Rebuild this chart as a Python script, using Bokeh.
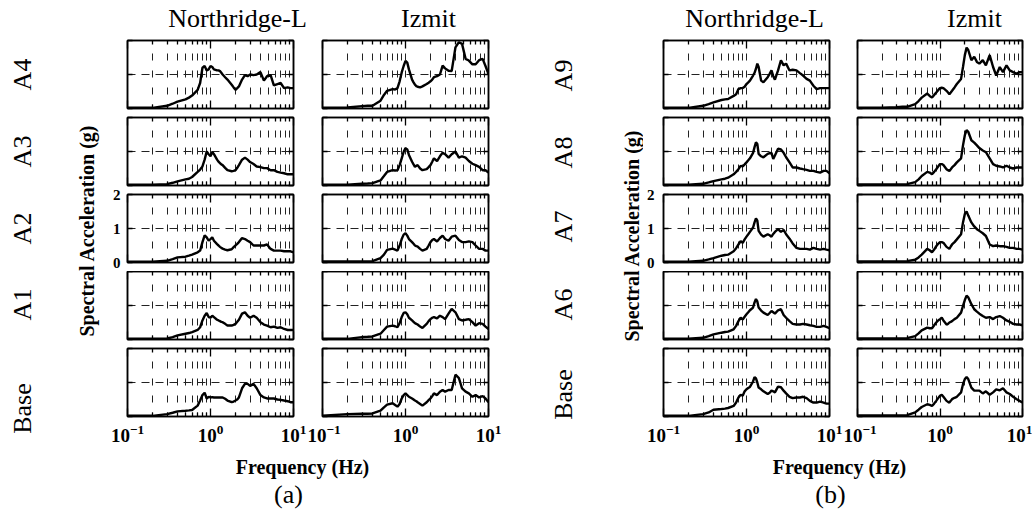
import math
from bokeh.plotting import figure
from bokeh.models import FixedTicker, LogAxis, LinearAxis, Range1d, CustomJSTickFormatter
from bokeh.core.properties import value
from bokeh.layouts import row, column
from bokeh.embed import file_html
from bokeh.resources import INLINE

# ---------------- data ----------------
freq = [0.1, 0.2, 0.3, 0.35, 0.4, 0.5, 0.55, 0.6, 0.7, 0.75,
        0.8, 0.85, 0.9, 0.95, 1.0, 1.05, 1.1, 1.2, 1.25, 1.3,
        1.35, 1.4, 1.5, 1.6, 1.8, 1.9, 2.0, 2.1, 2.2, 2.4,
        2.6, 2.8, 3.0, 3.3, 3.6, 4.0, 4.4, 4.8, 5.3, 5.8,
        6.4, 7.0, 7.7, 8.5, 9.2, 10.0]

# (a) Northridge-L
a_nl_a4 = [0.02, 0.02, 0.08, 0.14, 0.20, 0.27, 0.32, 0.38, 0.55, 0.75,
           1.20, 1.25, 1.12, 1.15, 1.25, 1.22, 1.15, 1.12, 1.12, 1.10,
           1.05, 1.00, 0.92, 0.85, 0.70, 0.62, 0.55, 0.60, 0.65, 0.85,
           0.98, 0.95, 1.00, 0.98, 1.00, 1.07, 0.82, 0.95, 0.98, 0.68,
           0.72, 0.75, 0.60, 0.62, 0.60, 0.60]
a_nl_a3 = [0.02, 0.02, 0.04, 0.08, 0.12, 0.18, 0.20, 0.25, 0.40, 0.47,
           0.56, 0.76, 1.00, 0.92, 0.86, 0.99, 0.92, 0.76, 0.70, 0.66,
           0.62, 0.60, 0.52, 0.45, 0.42, 0.43, 0.45, 0.52, 0.60, 0.76,
           0.82, 0.76, 0.69, 0.63, 0.56, 0.54, 0.51, 0.51, 0.45, 0.45,
           0.40, 0.38, 0.36, 0.33, 0.33, 0.33]
a_nl_a2 = [0.02, 0.02, 0.05, 0.10, 0.15, 0.17, 0.20, 0.23, 0.30, 0.35,
           0.60, 0.80, 0.74, 0.64, 0.69, 0.74, 0.64, 0.54, 0.50, 0.46,
           0.43, 0.41, 0.38, 0.36, 0.39, 0.45, 0.50, 0.55, 0.60, 0.72,
           0.69, 0.64, 0.60, 0.50, 0.50, 0.50, 0.50, 0.53, 0.40, 0.35,
           0.35, 0.35, 0.33, 0.33, 0.33, 0.30]
a_nl_a1 = [0.02, 0.02, 0.03, 0.07, 0.12, 0.17, 0.19, 0.22, 0.28, 0.36,
           0.56, 0.70, 0.78, 0.66, 0.64, 0.70, 0.66, 0.58, 0.56, 0.54,
           0.52, 0.51, 0.46, 0.41, 0.41, 0.43, 0.46, 0.52, 0.58, 0.76,
           0.80, 0.70, 0.64, 0.70, 0.64, 0.51, 0.44, 0.41, 0.36, 0.38,
           0.34, 0.36, 0.31, 0.28, 0.28, 0.28]
a_nl_base = [0.02, 0.02, 0.07, 0.11, 0.15, 0.17, 0.18, 0.19, 0.32, 0.47,
             0.63, 0.70, 0.53, 0.58, 0.56, 0.57, 0.56, 0.56, 0.56, 0.56,
             0.56, 0.56, 0.52, 0.47, 0.42, 0.44, 0.47, 0.50, 0.56, 0.83,
             0.96, 0.96, 0.90, 0.96, 0.83, 0.63, 0.56, 0.53, 0.53, 0.53,
             0.50, 0.49, 0.47, 0.45, 0.42, 0.42]

# (a) Izmit
a_iz_a4 = [0.02, 0.03, 0.07, 0.08, 0.08, 0.23, 0.40, 0.52, 0.57, 0.56,
           0.60, 0.80, 1.06, 1.25, 1.40, 1.35, 1.15, 0.85, 0.77, 0.70,
           0.66, 0.64, 0.62, 0.65, 0.72, 0.76, 0.80, 0.85, 0.92, 0.95,
           1.00, 1.26, 1.18, 1.11, 1.10, 1.80, 1.95, 1.90, 1.46, 1.41,
           1.30, 1.30, 1.42, 1.46, 1.25, 1.01]
a_iz_a3 = [0.02, 0.02, 0.05, 0.06, 0.07, 0.15, 0.28, 0.40, 0.45, 0.44,
           0.45, 0.60, 0.80, 0.99, 1.10, 1.06, 0.90, 0.70, 0.62, 0.55,
           0.58, 0.60, 0.50, 0.45, 0.48, 0.54, 0.60, 0.70, 0.80, 0.72,
           0.86, 0.96, 0.92, 0.82, 0.92, 1.00, 0.82, 0.86, 0.82, 0.72,
           0.64, 0.60, 0.55, 0.45, 0.45, 0.38]
a_iz_a2 = [0.03, 0.03, 0.03, 0.03, 0.04, 0.13, 0.23, 0.37, 0.41, 0.38,
           0.35, 0.50, 0.69, 0.82, 0.86, 0.79, 0.69, 0.60, 0.55, 0.50,
           0.48, 0.47, 0.40, 0.35, 0.40, 0.50, 0.60, 0.66, 0.69, 0.62,
           0.72, 0.79, 0.69, 0.64, 0.76, 0.79, 0.66, 0.60, 0.60, 0.62,
           0.60, 0.50, 0.40, 0.40, 0.35, 0.35]
a_iz_a1 = [0.02, 0.02, 0.07, 0.08, 0.09, 0.17, 0.28, 0.38, 0.41, 0.39,
           0.36, 0.48, 0.66, 0.78, 0.80, 0.74, 0.64, 0.56, 0.52, 0.48,
           0.46, 0.44, 0.38, 0.34, 0.46, 0.54, 0.60, 0.64, 0.66, 0.62,
           0.70, 0.66, 0.60, 0.76, 0.90, 0.80, 0.60, 0.56, 0.58, 0.60,
           0.51, 0.41, 0.48, 0.46, 0.38, 0.31]
a_iz_base = [0.02, 0.07, 0.08, 0.08, 0.09, 0.17, 0.27, 0.35, 0.39, 0.34,
             0.29, 0.37, 0.53, 0.63, 0.68, 0.63, 0.58, 0.53, 0.50, 0.47,
             0.45, 0.42, 0.37, 0.32, 0.42, 0.48, 0.53, 0.60, 0.68, 0.63,
             0.73, 0.78, 0.73, 0.78, 0.78, 1.23, 1.13, 0.83, 0.73, 0.68,
             0.58, 0.63, 0.56, 0.60, 0.53, 0.42]

# (b) Northridge-L
b_nl_a9 = [0.02, 0.02, 0.08, 0.13, 0.18, 0.25, 0.27, 0.28, 0.37, 0.42,
           0.57, 0.60, 0.60, 0.64, 0.72, 0.77, 0.82, 0.97, 1.05, 1.17,
           1.32, 1.22, 0.82, 0.77, 0.92, 1.02, 1.12, 0.95, 0.85, 1.12,
           1.42, 1.27, 1.32, 1.12, 1.14, 1.12, 1.04, 0.97, 0.87, 0.82,
           0.67, 0.57, 0.60, 0.60, 0.60, 0.60]
b_nl_a8 = [0.02, 0.02, 0.05, 0.09, 0.13, 0.18, 0.20, 0.23, 0.33, 0.40,
           0.48, 0.58, 0.56, 0.62, 0.68, 0.74, 0.80, 0.96, 1.13, 1.27,
           1.22, 0.93, 0.86, 0.83, 0.93, 0.95, 0.96, 0.78, 0.88, 1.08,
           1.06, 0.96, 0.83, 0.68, 0.53, 0.53, 0.50, 0.48, 0.46, 0.43,
           0.43, 0.40, 0.38, 0.43, 0.43, 0.36]
b_nl_a7 = [0.02, 0.02, 0.05, 0.09, 0.13, 0.20, 0.22, 0.23, 0.33, 0.42,
           0.53, 0.63, 0.58, 0.68, 0.76, 0.83, 0.90, 1.03, 1.18, 1.30,
           1.23, 0.93, 0.82, 0.76, 0.83, 0.80, 0.76, 0.84, 0.90, 0.98,
           0.90, 0.96, 0.83, 0.70, 0.56, 0.43, 0.40, 0.40, 0.40, 0.38,
           0.43, 0.40, 0.38, 0.40, 0.38, 0.36]
b_nl_a6 = [0.02, 0.02, 0.05, 0.10, 0.15, 0.20, 0.22, 0.23, 0.30, 0.40,
           0.54, 0.64, 0.59, 0.67, 0.74, 0.80, 0.86, 0.94, 1.09, 1.19,
           1.12, 0.94, 0.85, 0.79, 0.72, 0.78, 0.84, 0.80, 0.76, 0.86,
           0.89, 0.72, 0.64, 0.54, 0.46, 0.44, 0.44, 0.46, 0.44, 0.42,
           0.40, 0.37, 0.37, 0.40, 0.37, 0.33]
b_nl_base = [0.02, 0.02, 0.07, 0.12, 0.20, 0.22, 0.23, 0.25, 0.31, 0.41,
             0.56, 0.64, 0.61, 0.74, 0.80, 0.84, 0.87, 1.03, 1.16, 1.12,
             1.00, 0.85, 0.80, 0.74, 0.66, 0.70, 0.76, 0.74, 0.71, 0.88,
             0.86, 0.76, 0.68, 0.58, 0.54, 0.56, 0.56, 0.58, 0.54, 0.46,
             0.41, 0.41, 0.44, 0.41, 0.38, 0.38]

# (b) Izmit
b_iz_a9 = [0.02, 0.02, 0.04, 0.05, 0.05, 0.13, 0.22, 0.32, 0.44, 0.37,
           0.32, 0.40, 0.47, 0.54, 0.60, 0.61, 0.60, 0.52, 0.47, 0.42,
           0.47, 0.52, 0.62, 0.72, 0.87, 1.22, 1.57, 1.79, 1.72, 1.42,
           1.52, 1.37, 1.32, 1.42, 1.27, 1.57, 1.22, 0.97, 1.22, 1.07,
           1.27, 1.12, 1.07, 1.02, 1.07, 1.07]
b_iz_a8 = [0.03, 0.03, 0.03, 0.03, 0.04, 0.10, 0.18, 0.28, 0.40, 0.38,
           0.33, 0.40, 0.48, 0.56, 0.63, 0.63, 0.60, 0.48, 0.45, 0.43,
           0.48, 0.53, 0.60, 0.68, 0.80, 1.18, 1.48, 1.63, 1.58, 1.33,
           1.26, 1.18, 1.10, 1.03, 0.98, 0.80, 0.63, 0.58, 0.56, 0.53,
           0.58, 0.53, 0.50, 0.53, 0.53, 0.53]
b_iz_a7 = [0.03, 0.03, 0.03, 0.03, 0.04, 0.08, 0.15, 0.23, 0.40, 0.36,
           0.30, 0.38, 0.48, 0.55, 0.60, 0.60, 0.58, 0.46, 0.43, 0.40,
           0.47, 0.53, 0.60, 0.68, 0.83, 1.18, 1.43, 1.50, 1.38, 1.18,
           1.06, 0.98, 0.93, 0.86, 0.78, 0.53, 0.48, 0.50, 0.48, 0.48,
           0.46, 0.43, 0.43, 0.40, 0.40, 0.38]
b_iz_a6 = [0.03, 0.03, 0.03, 0.03, 0.04, 0.10, 0.18, 0.27, 0.35, 0.33,
           0.33, 0.42, 0.50, 0.56, 0.60, 0.64, 0.56, 0.44, 0.46, 0.50,
           0.52, 0.54, 0.60, 0.64, 0.79, 0.99, 1.16, 1.29, 1.24, 1.04,
           0.89, 0.82, 0.76, 0.69, 0.64, 0.66, 0.60, 0.66, 0.69, 0.64,
           0.56, 0.52, 0.46, 0.44, 0.44, 0.42]
b_iz_base = [0.03, 0.03, 0.03, 0.03, 0.04, 0.12, 0.20, 0.28, 0.36, 0.34,
             0.31, 0.38, 0.46, 0.54, 0.61, 0.64, 0.58, 0.46, 0.43, 0.41,
             0.46, 0.51, 0.55, 0.58, 0.71, 0.95, 1.10, 1.16, 1.10, 0.85,
             0.76, 0.76, 0.76, 0.68, 0.74, 0.64, 0.71, 0.80, 0.77, 0.83,
             0.71, 0.66, 0.58, 0.51, 0.46, 0.41]

rows_a = ["A4", "A3", "A2", "A1", "Base"]
rows_b = ["A9", "A8", "A7", "A6", "Base"]
col_titles = ["Northridge-L", "Izmit"]
x_major = [0.1, 1, 10]
x_minor = [0.2, 0.3, 0.4, 0.5, 0.6, 0.7, 0.8, 0.9, 2, 3, 4, 5, 6, 7, 8, 9]
y_major = [0, 1, 2]
y_label = "Spectral Acceleration (g)"
x_label = "Frequency (Hz)"
panel_tags = ["(a)", "(b)"]

series = [
    [a_nl_a4, a_nl_a3, a_nl_a2, a_nl_a1, a_nl_base],
    [a_iz_a4, a_iz_a3, a_iz_a2, a_iz_a1, a_iz_base],
    [b_nl_a9, b_nl_a8, b_nl_a7, b_nl_a6, b_nl_base],
    [b_iz_a9, b_iz_a8, b_iz_a7, b_iz_a6, b_iz_base],
]

# ---------------- geometry (page pixels) ----------------
FONT = "Liberation Serif"
H = 514
FH = 68
TITLE_H = 35
BOTTOM_Y = 453
# (left border, frame width, right border) of each panel column
cols = [(27, 166, 14), (15, 166, 20), (20, 166, 14), (14, 165, 10)]
# (top border, bottom border) of each panel row
rows = [(5, 4), (5, 2), (7, 9), (0, 4), (5, 37)]
strip_x = [(0, 100), (508, 643)]          # left text strips
group_frame_x = [(127, 488), (663, 1022)]  # frame extent of each panel group


def style_axis(ax, ticker, show, major_in, minor_in, size="16px", standoff=8):
    ax.ticker = ticker
    ax.axis_line_color = "black"
    ax.axis_line_width = 1.5
    ax.major_tick_in = major_in
    ax.major_tick_out = 0
    ax.minor_tick_in = minor_in
    ax.minor_tick_out = 0
    ax.major_tick_line_color = "black"
    ax.major_tick_line_width = 1.3
    ax.minor_tick_line_color = "black"
    ax.minor_tick_line_width = 1.3
    if show:
        ax.major_label_text_font = FONT
        ax.major_label_text_font_style = "bold"
        ax.major_label_text_font_size = size
        ax.major_label_text_color = "black"
        ax.major_label_standoff = standoff
    else:
        ax.formatter = CustomJSTickFormatter(code="return ''")
        ax.major_label_text_font_size = "1px"
        ax.major_label_standoff = 0


def make_panel(sa, ci, ri):
    lb, fw, rb = cols[ci]
    tb, bb = rows[ri]
    p = figure(x_axis_type="log", x_range=Range1d(0.1, 10), y_range=Range1d(0, 2),
               frame_width=fw, frame_height=FH,
               min_border_left=lb, min_border_right=rb,
               min_border_top=tb, min_border_bottom=bb,
               toolbar_location=None, output_backend="svg",
               background_fill_color="white", border_fill_color="white")
    p.outline_line_color = "black"
    p.outline_line_width = 1.5
    xt = FixedTicker(ticks=x_major, minor_ticks=x_minor)
    yt = FixedTicker(ticks=y_major, minor_ticks=[])

    p.xgrid.ticker = xt
    p.xgrid.grid_line_color = "#222222"
    p.xgrid.grid_line_width = 1
    p.xgrid.grid_line_dash = "7 10"
    p.xgrid.grid_line_dash_offset = 3
    p.xgrid.minor_grid_line_color = "#222222"
    p.xgrid.minor_grid_line_width = 1
    p.xgrid.minor_grid_line_dash = "7 10"
    p.xgrid.minor_grid_line_dash_offset = 3
    p.ygrid.ticker = FixedTicker(ticks=[1], minor_ticks=[])
    p.ygrid.grid_line_color = "#222222"
    p.ygrid.grid_line_width = 1
    p.ygrid.grid_line_dash = "8 6"

    show_x = (ri == 4)
    show_y = (ri == 2 and ci in (0, 2))
    style_axis(p.xaxis[0], xt, show_x, 8, 4, "19px", 8)
    style_axis(p.yaxis[0], yt, show_y, 5, 0, "15px", 7 if ci == 0 else 9)
    top = LogAxis()
    style_axis(top, xt, False, 8, 4)
    p.add_layout(top, "above")
    right = LinearAxis()
    style_axis(right, yt, False, 5, 0)
    p.add_layout(right, "right")

    p.line(freq, sa, line_color="black", line_width=2.4)
    return p


def text_strip(x0, x1, y0, y1, lb=0, rb=0):
    # a text-only figure whose data coordinates are page pixels (y negated)
    p = figure(frame_width=x1 - x0, frame_height=y1 - y0,
               x_range=Range1d(x0, x1), y_range=Range1d(-y1, -y0),
               min_border_left=lb, min_border_right=rb, min_border_top=0, min_border_bottom=0,
               toolbar_location=None, output_backend="svg",
               x_axis_location=None, y_axis_location=None,
               background_fill_color="white", border_fill_color="white")
    p.outline_line_color = None
    p.grid.visible = False
    return p


def put(p, x, y, text, size, bold=False, angle=0.0):
    p.text(x=[x], y=[-y], text=[text], angle=angle,
           text_font=value(FONT), text_font_size=value(size),
           text_font_style="bold" if bold else "normal",
           text_line_height=1.0,
           text_align="center", text_baseline="middle", text_color="black")


# left strips: row names and y-axis title (text centres in page pixels)
row_y = [[74, 151, 228, 304, 408], [75, 152, 226, 304, 394]]
row_x = [22, 563]
ylab_xy = [(86, 230), (631, 235)]
strips = []
for g in range(2):
    s = text_strip(strip_x[g][0], strip_x[g][1], 0, H)
    for name, yy in zip(rows_a if g == 0 else rows_b, row_y[g]):
        put(s, row_x[g], yy, name, "26px", angle=math.pi / 2)
    put(s, ylab_xy[g][0], ylab_xy[g][1], y_label, "20px", bold=True, angle=math.pi / 2)
    strips.append(s)

title_x = [[237, 428], [754, 974]]
bottom_xy = [[(302, 466), (288, 494)], [(839, 466), (830, 494)]]
groups = []
for g in range(2):
    fx0, fx1 = group_frame_x[g]
    lb = cols[2 * g][0]
    rb = cols[2 * g + 1][2]
    ts = text_strip(fx0, fx1, 0, TITLE_H, lb, rb)
    for k in range(2):
        put(ts, title_x[g][k], 18, col_titles[k], "26px")
    pcols = []
    for k in range(2):
        ci = 2 * g + k
        pcols.append(column(*[make_panel(series[ci][ri], ci, ri) for ri in range(5)], spacing=0))
    bs = text_strip(fx0, fx1, BOTTOM_Y, H, lb, rb)
    put(bs, bottom_xy[g][0][0], bottom_xy[g][0][1], x_label, "20px", bold=True)
    put(bs, bottom_xy[g][1][0], bottom_xy[g][1][1], panel_tags[g], "26px")
    groups.append(column(ts, row(*pcols, spacing=0), bs, spacing=0))

layout = row(strips[0], groups[0], strips[1], groups[1], spacing=0)

open("out.html", "w").write(file_html(layout, INLINE))
